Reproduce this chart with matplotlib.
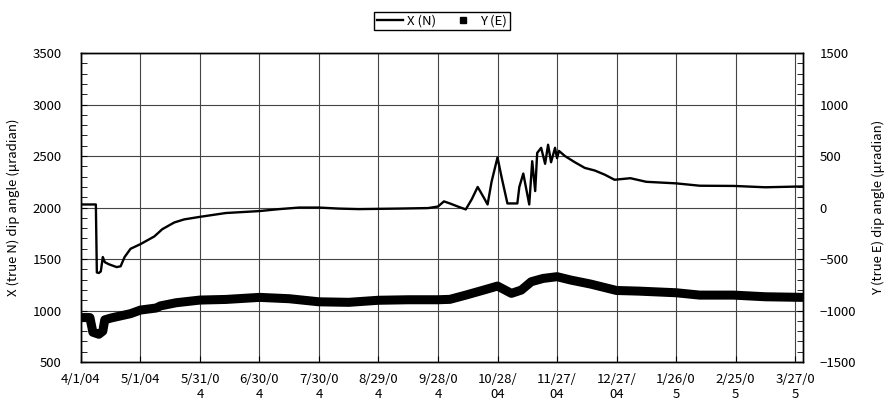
import matplotlib
matplotlib.use("Agg")
import matplotlib.pyplot as plt
from matplotlib.lines import Line2D
from matplotlib.ticker import MultipleLocator

plt.rcParams['font.family'] = ['Noto Sans CJK JP', 'DejaVu Sans']
plt.rcParams['font.size'] = 9.5

# X (N) tilt, left axis, days since 4/1/04
x_days = [0, 7.5, 8, 9, 10, 11, 12, 14, 18, 20, 22, 25, 30, 37, 41, 47, 52, 60,
          73, 90, 100, 110, 120, 130, 140, 160, 175, 180, 183, 186, 190, 194,
          197, 200, 203, 205, 207, 210, 212, 215, 220, 221, 223, 226, 227.5,
          229, 230, 232, 234, 235.5, 237, 239, 240, 241, 244, 249, 254, 259,
          264, 269, 277, 285, 300, 312, 329, 345, 364]
x_vals = [2030, 2030, 1370, 1365, 1380, 1520, 1470, 1450, 1422, 1430, 1520, 1600,
          1645, 1720, 1790, 1855, 1885, 1910, 1947, 1966, 1985, 2000, 2000,
          1990, 1985, 1990, 1995, 2010, 2060, 2040, 2010, 1982, 2080, 2200,
          2100, 2030, 2250, 2487, 2300, 2040, 2040, 2200, 2330, 2030, 2450,
          2160, 2530, 2580, 2425, 2610, 2440, 2580, 2480, 2550, 2500, 2440,
          2385, 2360, 2320, 2270, 2285, 2250, 2235, 2212, 2210, 2197, 2205]

# Y (E) tilt, right axis
y_days = [0, 4.5, 6, 9, 11, 12, 15, 18, 25, 30, 38, 40, 48, 60, 73, 90, 105, 120,
          135, 150, 165, 180, 186, 194, 203, 210, 217, 222, 227, 233, 240, 247,
          257, 270, 281, 300, 312, 329, 345, 364]
y_vals = [-1068, -1068, -1210, -1230, -1200, -1090, -1073, -1060, -1030, -995,
          -975, -955, -924, -898, -892, -872, -885, -915, -920, -900, -895,
          -895, -891, -850, -801, -762, -833, -801, -720, -688, -671, -704,
          -743, -805, -811, -827, -850, -850, -866, -872]

tick_days = [0, 30, 60, 90, 120, 150, 180, 210, 240, 270, 300, 330, 360]
tick_labels = ['4/1/04', '5/1/04', '5/31/0\n4', '6/30/0\n4', '7/30/0\n4',
               '8/29/0\n4', '9/28/0\n4', '10/28/\n04', '11/27/\n04',
               '12/27/\n04', '1/26/0\n5', '2/25/0\n5', '3/27/0\n5']

fig = plt.figure(figsize=(8.85, 4.05), dpi=100)
ax = fig.add_axes([0.0915, 0.106, 0.8158, 0.763])
ax2 = ax.twinx()

ax.plot(x_days, x_vals, color='black', lw=1.7)
ax2.plot(y_days, y_vals, color='black', lw=6.5, solid_capstyle='butt')

ax.set_xlim(0, 364)
ax.set_ylim(500, 3500)
ax2.set_ylim(-1500, 1500)

ax.set_xticks(tick_days)
ax.set_xticklabels(tick_labels)
ax.yaxis.set_major_locator(MultipleLocator(500))
ax.yaxis.set_minor_locator(MultipleLocator(100))
ax2.yaxis.set_major_locator(MultipleLocator(500))
ax2.yaxis.set_minor_locator(MultipleLocator(100))

ax.grid(True, which='major', color='#444444', lw=0.8)
ax.set_axisbelow(True)

ax.tick_params(axis='x', direction='in', length=4, pad=8)
ax.tick_params(axis='y', which='both', direction='in', length=4, pad=14)
ax2.tick_params(axis='y', which='both', direction='in', length=4, pad=12)

for a in (ax, ax2):
    for s in a.spines.values():
        s.set_color('black')
        s.set_linewidth(1.0)

ax.set_ylabel('X (true N) dip angle (μradian)')
ax2.set_ylabel('Y (true E) dip angle (μradian)', rotation=90)
ax.yaxis.set_label_coords(-0.085, 0.5)
ax2.yaxis.set_label_coords(1.095, 0.5)

handles = [Line2D([], [], color='black', lw=1.7),
           Line2D([], [], color='black', ls='none', marker='s', ms=5)]
fig.legend(handles, ['X (N)', 'Y (E)'], loc='center',
           bbox_to_anchor=(442 / 885, 1 - 21 / 405), ncol=2, frameon=True,
           fancybox=False, edgecolor='black', framealpha=1, borderpad=0.2,
           handlelength=2.0, handletextpad=0.3, columnspacing=1.0,
           fontsize=9.5)

fig.savefig('out.png', dpi=100)
